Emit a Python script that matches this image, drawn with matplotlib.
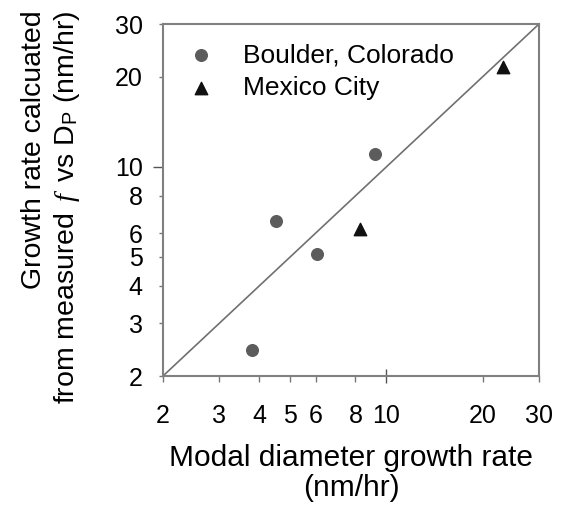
import matplotlib
matplotlib.use("Agg")
import matplotlib.pyplot as plt
from matplotlib.ticker import FixedLocator, FixedFormatter

plt.rcParams['font.family'] = ['Liberation Sans', 'DejaVu Sans']
plt.rcParams['mathtext.fontset'] = 'custom'
plt.rcParams['mathtext.it'] = 'Liberation Serif:italic'
plt.rcParams['mathtext.rm'] = 'Liberation Sans'

# Growth rates (nm/hr): modal-diameter method vs. f-vs-Dp method
boulder_modal = [9.2, 4.5, 6.05, 3.8]
boulder_fdp = [11.0, 6.6, 5.1, 2.45]
mexico_modal = [23.1, 8.25]
mexico_fdp = [21.6, 6.2]

axis_limits = [2, 30]
major_ticks = [10]
minor_ticks = [2, 3, 4, 5, 6, 8, 20, 30]

fig = plt.figure(figsize=(5.63, 5.12), dpi=100)
ax = fig.add_axes([163 / 563, 1 - 376 / 512, 376 / 563, 352 / 512])
ax.set_xscale('log')
ax.set_yscale('log')
ax.set_xlim(axis_limits)
ax.set_ylim(axis_limits)

# 1:1 reference line
ax.plot(axis_limits, axis_limits, color='#707070', lw=1.2, zorder=1)

ax.scatter(boulder_modal, boulder_fdp, s=70, marker='o', color='#5c5c5c',
           label='Boulder, Colorado', zorder=3)
ax.scatter(mexico_modal, mexico_fdp, s=80, marker='^', color='#111111',
           label='Mexico City', zorder=3)

for axis in (ax.xaxis, ax.yaxis):
    axis.set_major_locator(FixedLocator(major_ticks))
    axis.set_major_formatter(FixedFormatter([str(t) for t in major_ticks]))
    axis.set_minor_locator(FixedLocator(minor_ticks))
    axis.set_minor_formatter(FixedFormatter([str(t) for t in minor_ticks]))

ax.tick_params(axis='x', which='major', direction='inout', length=10, width=1,
               color='#555555', labelsize=18, pad=15)
ax.tick_params(axis='x', which='minor', direction='out', length=4, width=1,
               color='#777777', labelsize=18, pad=16)
ax.tick_params(axis='y', which='major', direction='out', length=7, width=1,
               color='#555555', labelsize=18, pad=7.5)
ax.tick_params(axis='y', which='minor', direction='out', length=3, width=1,
               color='#777777', labelsize=18, pad=11.5)

for s in ax.spines.values():
    s.set_color('#808080')
    s.set_linewidth(1.5)

ax.set_xlabel('Modal diameter growth rate\n(nm/hr)', fontsize=21.5,
              linespacing=1.05, labelpad=12)
ax.set_ylabel('Growth rate calcuated\nfrom measured $\\,\\mathit{f}\\,$ vs D$_\\mathrm{P}$ (nm/hr)',
              fontsize=20.5, linespacing=1.22, labelpad=24,
              multialignment='right')
ax.yaxis.label.set_y(0.48)

ax.legend(loc='upper left', frameon=False, fontsize=19, handletextpad=0.6,
          borderaxespad=0.0, labelspacing=0.35, scatterpoints=1,
          bbox_to_anchor=(0.002, 0.976))

fig.savefig('out.png', dpi=100)
